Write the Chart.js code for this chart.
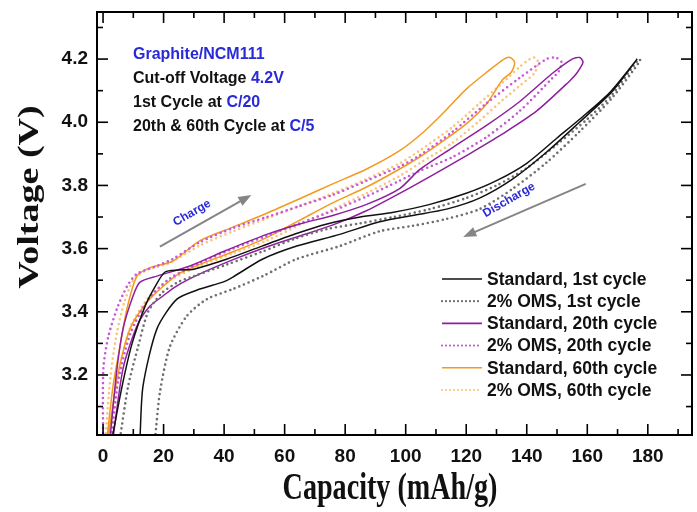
<!DOCTYPE html>
<html>
<head>
<meta charset="utf-8">
<script src="https://cdn.jsdelivr.net/npm/chart.js@4.4.0/dist/chart.umd.min.js"></script>
<style>
  html, body { margin: 0; padding: 0; background: #fff; }
  #wrap { width: 697px; height: 512px; }
</style>
</head>
<body>
<div id="wrap"><canvas id="chart" width="697" height="512"></canvas></div>
<script>
// axis ticks
const xTicks = [0, 20, 40, 60, 80, 100, 120, 140, 160, 180];
const yTicks = [3.2, 3.4, 3.6, 3.8, 4.0, 4.2];

// [capacity mAh/g, voltage V]
const std1Charge = [[3,3.0],[6.3,3.165],[9.6,3.30],[13.9,3.418],[17.2,3.48],[20.5,3.526],[25,3.532],[30,3.535],[41,3.567],[52.5,3.608],[63.4,3.646],[74,3.678],[85,3.70],[96,3.715],[108,3.74],[120,3.775],[130,3.815],[140,3.87],[150,3.95],[160,4.03],[168,4.10],[176.5,4.2]];
const std1Discharge = [[176.5,4.2],[168,4.095],[157.4,4.0],[146.5,3.905],[135.3,3.82],[124.4,3.76],[113.5,3.725],[102.3,3.705],[91.4,3.685],[78.2,3.645],[64,3.608],[52.8,3.567],[42.9,3.51],[39.6,3.494],[32,3.472],[24.4,3.44],[17.8,3.346],[13.2,3.165],[12.2,3.0]];

const oms1Charge = [[5.6,3.0],[8.3,3.165],[11.6,3.29],[14.9,3.40],[19.5,3.46],[25,3.495],[30,3.513],[41,3.55],[52.5,3.59],[63,3.63],[74,3.662],[85,3.68],[96,3.70],[108,3.725],[120,3.76],[130,3.80],[140,3.855],[150,3.93],[160,4.01],[168,4.085],[177,4.2]];
const oms1Discharge = [[177.5,4.195],[168,4.075],[157.4,3.97],[146.5,3.872],[135.3,3.789],[124.4,3.725],[113.5,3.694],[102.3,3.672],[91.4,3.655],[78.2,3.608],[64,3.567],[52.8,3.513],[42.9,3.472],[34.3,3.44],[27.7,3.387],[22.1,3.29],[18.8,3.146],[17.2,3.0]];

const std20Charge = [[2.3,3.0],[4.6,3.22],[6.6,3.346],[9.9,3.45],[12.2,3.494],[17.8,3.513],[28.7,3.545],[39.6,3.59],[54.1,3.645],[65,3.678],[75.9,3.705],[87.1,3.74],[98,3.79],[104.6,3.85],[115.5,3.92],[126.7,3.99],[137.6,4.065],[148.5,4.155],[155,4.2],[157.5,4.205]];
const std20Discharge = [[158.6,4.19],[156.5,4.155],[154.1,4.13],[143.2,4.035],[132,3.963],[121.1,3.9],[110.2,3.84],[98,3.775],[87,3.72],[76,3.675],[65,3.64],[54,3.605],[43,3.565],[32,3.52],[24,3.48],[19.8,3.45],[15.5,3.418],[11.2,3.355],[6.6,3.22],[3.3,3.0]];

const oms20Charge = [[0,3.0],[0.1,3.22],[1.7,3.32],[4.6,3.41],[7.9,3.48],[11.2,3.52],[17.8,3.545],[23,3.567],[32,3.62],[42.9,3.665],[54.1,3.70],[65,3.735],[75.9,3.77],[87.1,3.815],[98,3.86],[104.6,3.895],[115.5,3.97],[126.7,4.06],[137.6,4.14],[146.5,4.2],[149.5,4.205]];
const oms20Discharge = [[151.5,4.19],[150.5,4.16],[148.5,4.14],[137.6,4.035],[126.7,3.953],[115.5,3.89],[104.6,3.846],[98,3.815],[87,3.765],[76,3.72],[65,3.68],[54,3.64],[43,3.6],[32,3.555],[22,3.505],[15,3.44],[9,3.33],[5,3.18],[2.8,3.0]];

const std60Charge = [[1.3,3.0],[3.3,3.165],[5.6,3.29],[7.9,3.41],[11.2,3.513],[15.5,3.54],[23,3.56],[32,3.625],[42.9,3.668],[54.1,3.712],[65,3.758],[75.9,3.805],[87.1,3.852],[98,3.91],[106,3.97],[113.5,4.04],[120,4.105],[127,4.16],[132.5,4.2],[134.5,4.205]];
const std60Discharge = [[136,4.19],[135,4.16],[132,4.135],[126.7,4.058],[120,3.995],[113,3.945],[104.6,3.89],[98,3.852],[87.1,3.795],[75.9,3.745],[65,3.69],[54.1,3.635],[42.9,3.59],[32,3.55],[25,3.52],[19.8,3.48],[14.5,3.43],[8.9,3.346],[4.6,3.187],[1.7,3.0]];

const oms60Charge = [[0.8,3.0],[2.5,3.2],[4.5,3.33],[7,3.43],[10,3.5],[14,3.53],[22,3.555],[32,3.61],[43,3.655],[54,3.695],[65,3.735],[76,3.775],[87,3.82],[98,3.87],[104.6,3.91],[115.5,3.985],[124.4,4.06],[132,4.125],[137.6,4.175],[141,4.2],[142.5,4.205]];
const oms60Discharge = [[143.8,4.19],[142.5,4.155],[137.6,4.115],[132,4.07],[124.4,4.005],[115.5,3.935],[104.6,3.87],[98,3.83],[87,3.775],[76,3.725],[65,3.675],[54,3.625],[43,3.585],[32,3.545],[22,3.50],[15,3.445],[9,3.35],[5,3.2],[2.3,3.0]];

const seriesNames = ["Standard, 1st cycle", "2% OMS, 1st cycle", "Standard, 20th cycle",
                     "2% OMS, 20th cycle", "Standard, 60th cycle", "2% OMS, 60th cycle"];
const seriesColors = ["#111111", "#6e6e6e", "#8e1f9e", "#c65ad6", "#f39a1e", "#f9c47c"];
const seriesDotted = [false, true, false, true, false, true];
const loops = [
    [std1Charge, std1Discharge], [oms1Charge, oms1Discharge],
    [std20Charge, std20Discharge], [oms20Charge, oms20Discharge],
    [std60Charge, std60Discharge], [oms60Charge, oms60Discharge],
];

const BLUE = "#2a2ad8";

function toXY(pairs) { return pairs.map(p => ({x: p[0], y: p[1]})); }

const datasets = loops.map((l, i) => ({
    label: seriesNames[i],
    data: toXY(l[0].concat(l[1])),
    showLine: true,
    borderColor: seriesColors[i],
    backgroundColor: seriesColors[i],
    borderWidth: seriesDotted[i] ? 2.6 : 1.5,
    borderDash: seriesDotted[i] ? [0, 5] : [],
    borderCapStyle: seriesDotted[i] ? "round" : "butt",
    pointRadius: 0,
    tension: 0.25,
}));

function drawArrow(ctx, x0, y0, x1, y1) {
    const ang = Math.atan2(y1 - y0, x1 - x0);
    const head = 13, half = 5;
    ctx.save();
    ctx.strokeStyle = "#858585";
    ctx.fillStyle = "#858585";
    ctx.lineWidth = 2;
    ctx.beginPath();
    ctx.moveTo(x0, y0);
    ctx.lineTo(x1 - Math.cos(ang) * head * 0.8, y1 - Math.sin(ang) * head * 0.8);
    ctx.stroke();
    ctx.translate(x1, y1);
    ctx.rotate(ang);
    ctx.beginPath();
    ctx.moveTo(0, 0);
    ctx.lineTo(-head, -half);
    ctx.lineTo(-head, half);
    ctx.closePath();
    ctx.fill();
    ctx.restore();
}

function drawRich(ctx, x, y, parts) {
    let cx = x;
    parts.forEach(([txt, col]) => {
        ctx.fillStyle = col;
        ctx.fillText(txt, cx, y);
        cx += ctx.measureText(txt).width;
    });
}

const frameTicks = {
    id: "frameTicks",
    afterDraw(chart) {
        const {ctx, chartArea: a, scales: {x, y}} = chart;
        ctx.save();
        ctx.strokeStyle = "#000";
        ctx.lineWidth = 1.6;
        const seg = (x0, y0, x1, y1) => { ctx.beginPath(); ctx.moveTo(x0, y0); ctx.lineTo(x1, y1); ctx.stroke(); };
        for (let v = 0; v <= 190; v += 10) {
            const px = x.getPixelForValue(v);
            const len = v % 20 === 0 ? 11 : 6;
            seg(px, a.bottom, px, a.bottom - len);
            seg(px, a.top, px, a.top + len);
        }
        for (let k = 31; k <= 43; k++) {
            const py = y.getPixelForValue(k / 10);
            const len = k % 2 === 0 ? 11 : 6;
            seg(a.left, py, a.left + len, py);
            seg(a.right, py, a.right - len, py);
        }
        ctx.lineWidth = 2;
        ctx.strokeRect(a.left, a.top, a.right - a.left, a.bottom - a.top);
        ctx.restore();
    }
};

const decorations = {
    id: "decorations",
    afterDatasetsDraw(chart) {
        const {ctx, scales: {x, y}} = chart;
        ctx.save();

        // notes, top left
        ctx.font = "bold 16px 'Liberation Sans', Arial, sans-serif";
        ctx.textBaseline = "alphabetic";
        ctx.textAlign = "left";
        drawRich(ctx, 133, 59, [["Graphite/NCM111", BLUE]]);
        drawRich(ctx, 133, 83, [["Cut-off Voltage ", "#111"], ["4.2V", BLUE]]);
        drawRich(ctx, 133, 107, [["1st Cycle at ", "#111"], ["C/20", BLUE]]);
        drawRich(ctx, 133, 131, [["20th & 60th Cycle at ", "#111"], ["C/5", BLUE]]);

        // arrows
        drawArrow(ctx, x.getPixelForValue(18.8), y.getPixelForValue(3.606),
                       x.getPixelForValue(49), y.getPixelForValue(3.77));
        drawArrow(ctx, x.getPixelForValue(159.5), y.getPixelForValue(3.805),
                       x.getPixelForValue(119), y.getPixelForValue(3.637));

        ctx.font = "bold 12px 'Liberation Sans', Arial, sans-serif";
        ctx.fillStyle = BLUE;
        ctx.textAlign = "center";
        ctx.textBaseline = "middle";
        ctx.save();
        ctx.translate(192, 213);
        ctx.rotate(-30 * Math.PI / 180);
        ctx.fillText("Charge", 0, 0);
        ctx.restore();
        ctx.save();
        ctx.translate(509, 200);
        ctx.rotate(-30 * Math.PI / 180);
        ctx.fillText("Discharge", 0, 0);
        ctx.restore();

        // legend
        ctx.font = "bold 17.5px 'Liberation Sans', Arial, sans-serif";
        ctx.textAlign = "left";
        ctx.textBaseline = "middle";
        seriesNames.forEach((name, i) => {
            const ry = 279 + i * 22.2;
            ctx.save();
            ctx.strokeStyle = seriesColors[i];
            ctx.lineWidth = seriesDotted[i] ? 2.2 : 1.6;
            ctx.setLineDash(seriesDotted[i] ? [0, 4] : []);
            ctx.lineCap = seriesDotted[i] ? "round" : "butt";
            ctx.beginPath();
            ctx.moveTo(442, ry);
            ctx.lineTo(482, ry);
            ctx.stroke();
            ctx.restore();
            ctx.fillStyle = "#111";
            ctx.fillText(name, 487, ry + 1);
        });

        // axis titles (condensed serif)
        ctx.fillStyle = "#111";
        ctx.font = "bold 38px 'Liberation Serif', 'Times New Roman', serif";
        ctx.textAlign = "center";
        ctx.textBaseline = "middle";
        ctx.save();
        ctx.translate(390, 489);
        ctx.scale(0.74, 1);
        ctx.fillText("Capacity (mAh/g)", 0, 0);
        ctx.restore();
        ctx.save();
        ctx.translate(31, 197);
        ctx.rotate(-Math.PI / 2);
        ctx.scale(1, 0.76);
        ctx.fillText("Voltage (V)", 0, 0);
        ctx.restore();

        ctx.restore();
    }
};

new Chart(document.getElementById("chart"), {
    type: "scatter",
    data: {datasets},
    options: {
        responsive: false,
        animation: false,
        layout: {padding: {top: 12, right: 5, left: 0, bottom: 0}},
        plugins: {legend: {display: false}, tooltip: {enabled: false}},
        scales: {
            x: {
                type: "linear", min: -2, max: 194.6,
                afterBuildTicks: s => { s.ticks = xTicks.map(v => ({value: v})); },
                afterFit: s => { s.height = 77; s.paddingLeft = 0; s.paddingRight = 0; },
                grid: {display: false, drawTicks: false},
                border: {display: false},
                ticks: {color: "#111", font: {family: "'Liberation Sans', Arial, sans-serif", size: 19, weight: "bold"},
                        padding: 10, maxRotation: 0, autoSkip: false},
            },
            y: {
                type: "linear", min: 3.01, max: 4.349,
                afterBuildTicks: s => { s.ticks = yTicks.map(v => ({value: v})); },
                afterFit: s => { s.width = 97; s.paddingTop = 0; s.paddingBottom = 0; },
                grid: {display: false, drawTicks: false},
                border: {display: false},
                ticks: {color: "#111", font: {family: "'Liberation Sans', Arial, sans-serif", size: 19, weight: "bold"},
                        padding: 9, autoSkip: false, callback: v => v.toFixed(1)},
            },
        },
    },
    plugins: [frameTicks, decorations],
});
</script>
</body>
</html>
